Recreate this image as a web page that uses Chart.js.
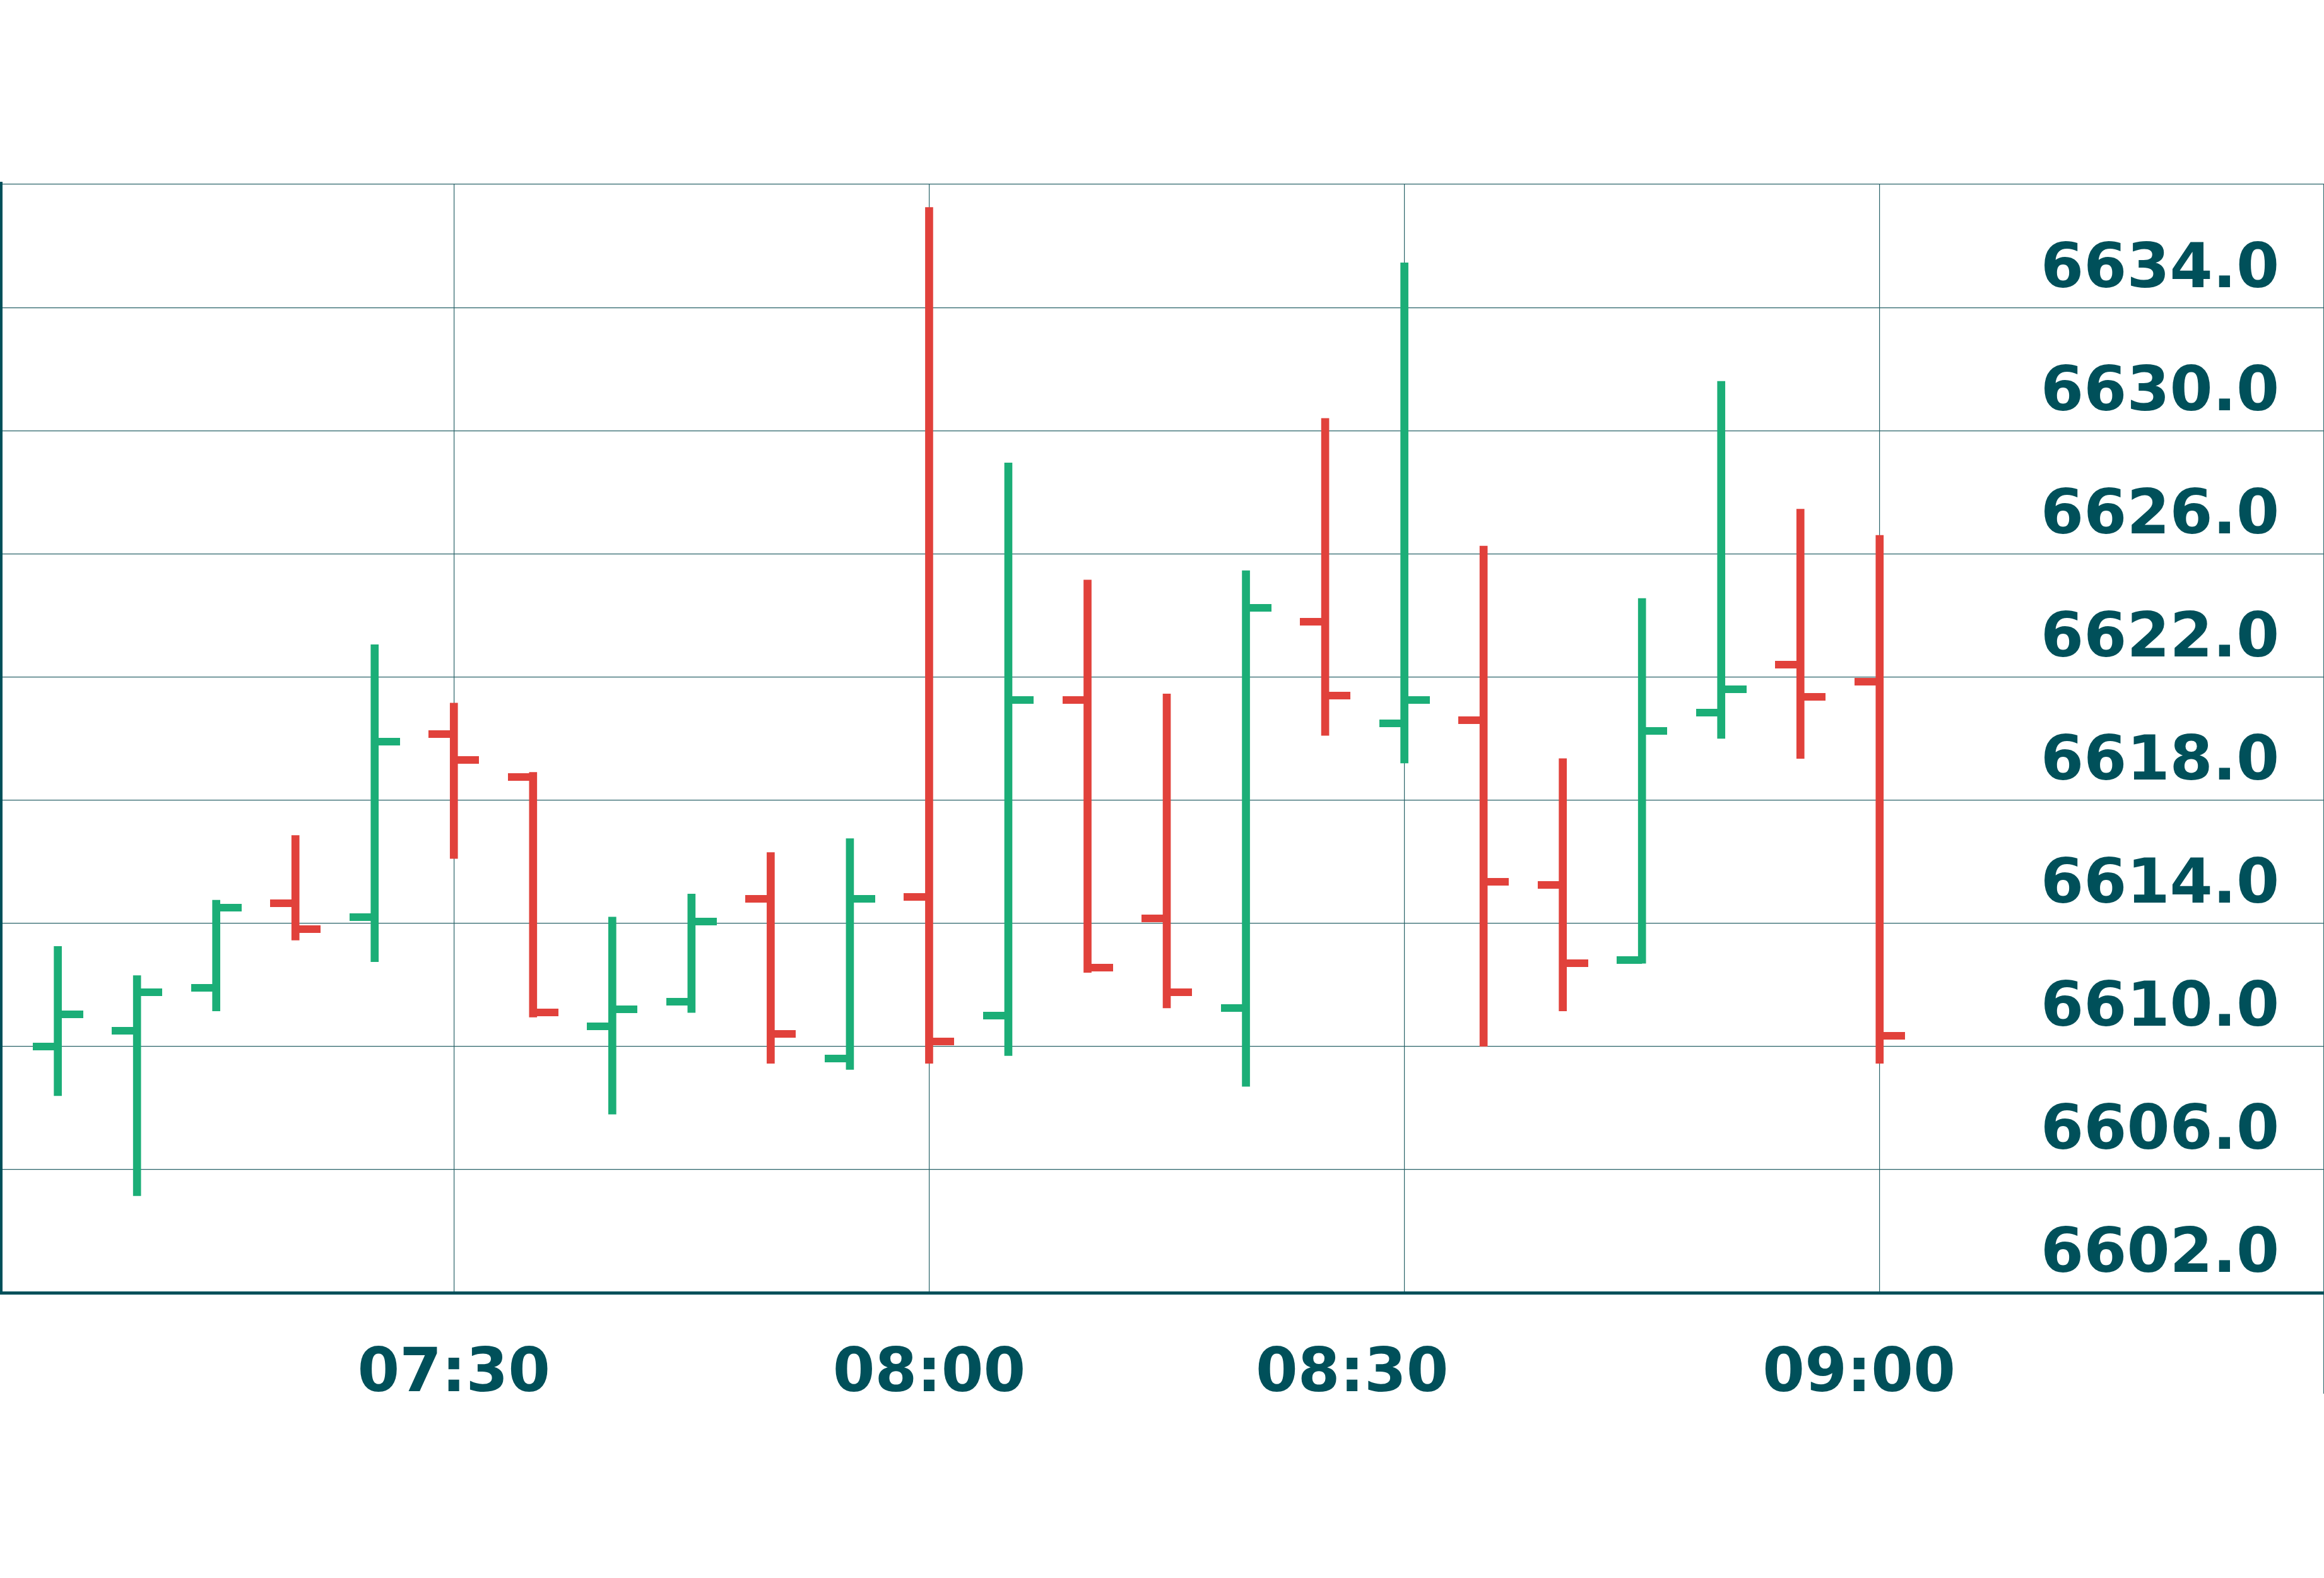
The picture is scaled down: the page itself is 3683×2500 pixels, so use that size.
<!DOCTYPE html>
<html>
<head>
<meta charset="utf-8">
<script src="https://cdn.jsdelivr.net/npm/chart.js@4.4.1/dist/chart.umd.min.js"></script>
<style>
  html, body { margin: 0; padding: 0; background: #fff; }
  canvas { display: block; }
</style>
</head>
<body>
<canvas id="chart" width="3683" height="2500"></canvas>
<script>
// 5 minute bars
const times = ['07:05', '07:10', '07:15', '07:20', '07:25', '07:30', '07:35', '07:40',
               '07:45', '07:50', '07:55', '08:00', '08:05', '08:10', '08:15', '08:20',
               '08:25', '08:30', '08:35', '08:40', '08:45', '08:50', '08:55', '09:00']
const opens  = [6610.0, 6610.5, 6611.9, 6614.65, 6614.2, 6620.15, 6618.75, 6610.65,
                6611.45, 6614.8, 6609.6, 6614.85, 6611.0, 6621.25, 6614.15, 6611.25,
                6623.8, 6620.5, 6620.6, 6615.25, 6612.8, 6620.85, 6622.4, 6621.85]
const highs  = [6613.25, 6612.3, 6614.75, 6616.85, 6623.05, 6621.15, 6618.9, 6614.2,
                6614.95, 6616.3, 6616.75, 6637.25, 6628.95, 6625.15, 6621.45, 6625.45,
                6630.4, 6635.45, 6626.25, 6619.35, 6624.55, 6631.6, 6627.45, 6626.6]
const lows   = [6608.4, 6605.15, 6611.15, 6613.45, 6612.75, 6616.1, 6610.95, 6607.8,
                6611.1, 6609.45, 6609.25, 6609.45, 6609.7, 6612.4, 6611.25, 6608.7,
                6620.1, 6619.2, 6610.0, 6611.15, 6612.7, 6620.0, 6619.35, 6609.45]
const closes = [6611.05, 6611.75, 6614.5, 6613.8, 6619.9, 6619.3, 6611.1, 6611.2,
                6614.05, 6610.4, 6614.8, 6610.15, 6621.25, 6612.55, 6611.75, 6624.25,
                6621.4, 6621.25, 6615.35, 6612.7, 6620.25, 6621.6, 6621.35, 6610.35]

// axis ticks (grid at the half hours, labels sit a little off them in the original)
const xGridTimes = ['07:30', '08:00', '08:30', '09:00']
const xTickLabels = ['07:30', '08:00', '08:30', '09:00']
const xLabelAt = [30, 60, 86.7, 118.7]
const yTicks = [6602, 6606, 6610, 6614, 6618, 6622, 6626, 6630, 6634, 6638]
const yTickLabels = ['6602.0', '6606.0', '6610.0', '6614.0', '6618.0', '6622.0', '6626.0', '6630.0', '6634.0', '']

// minutes after 07:00
const toMin = t => {
    const [h, m] = t.split(':').map(Number)
    return (h - 7) * 60 + m
}

const up = '#1bae77'
const down = '#e1413b'
const ink = '#00505a'
const gridCol = '#2a6369'
const xMin = 1.35
const xMax = 148.05

const colors = opens.map((o, i) => closes[i] >= o ? up : down)

// open tick sticks out left, close tick sticks out right
function tickImg(color, side) {
    const c = document.createElement('canvas')
    c.width = 80
    c.height = 12
    const g = c.getContext('2d')
    g.fillStyle = color
    g.fillRect(side == 'left' ? 0 : 40, 0, 40, 12)
    return c
}
const openImg = { [up]: tickImg(up, 'left'), [down]: tickImg(down, 'left') }
const closeImg = { [up]: tickImg(up, 'right'), [down]: tickImg(down, 'right') }

// the big tick paddings are only for label placement, keep them out of the layout
function noPad(s) {
    s.paddingTop = 0
    s.paddingBottom = 0
    s.paddingLeft = 0
    s.paddingRight = 0
}

Chart.defaults.font.family = 'DejaVu Sans'

const ctx = document.getElementById('chart')
const chart = new Chart(ctx, {
    type: 'bar',
    data: {
        datasets: [{
            type: 'bar',
            data: times.map((t, i) => ({ x: toMin(t), y: [lows[i], highs[i]] })),
            backgroundColor: colors,
            borderWidth: 0,
            barThickness: 12,
            grouped: false
        }, {
            type: 'line',
            data: times.map((t, i) => ({ x: toMin(t), y: opens[i] })),
            showLine: false,
            pointStyle: c => openImg[colors[c.dataIndex]] || 'line',
            pointRadius: 20
        }, {
            type: 'line',
            data: times.map((t, i) => ({ x: toMin(t), y: closes[i] })),
            showLine: false,
            pointStyle: c => closeImg[colors[c.dataIndex]] || 'line',
            pointRadius: 20
        }]
    },
    options: {
        responsive: false,
        animation: false,
        devicePixelRatio: 1,
        layout: {
            autoPadding: false,
            padding: { top: 292, left: 0, right: 0, bottom: 0 }
        },
        plugins: {
            legend: { display: false },
            tooltip: { enabled: false }
        },
        scales: {
            // grid + axis line, no labels
            x: {
                type: 'linear',
                min: xMin,
                max: xMax,
                offset: false,
                weight: 0,
                afterBuildTicks: s => {
                    s.ticks = xGridTimes.map(t => ({ value: toMin(t) })).concat([{ value: xMax }])
                },
                afterFit: s => {
                    s.height = 0
                    noPad(s)
                },
                ticks: { display: false },
                grid: {
                    offset: false,
                    color: gridCol,
                    lineWidth: 1.2,
                    tickLength: 160,
                    tickWidth: 1.2,
                    tickColor: c => c.index == xGridTimes.length ? gridCol : 'rgba(0,0,0,0)'
                },
                border: { display: true, color: ink, width: 5 }
            },
            // time labels
            xLabels: {
                type: 'linear',
                axis: 'x',
                position: 'bottom',
                min: xMin,
                max: xMax,
                offset: false,
                weight: 1,
                afterBuildTicks: s => {
                    s.ticks = xLabelAt.map(v => ({ value: v }))
                },
                afterFit: s => {
                    s.height = 452
                    noPad(s)
                },
                ticks: {
                    callback: (v, i) => xTickLabels[i],
                    font: { size: 96, weight: 'bold' },
                    color: ink,
                    padding: 73,
                    maxRotation: 0,
                    autoSkip: false
                },
                grid: { display: false, drawTicks: false },
                border: { display: false }
            },
            y: {
                type: 'linear',
                position: 'left',
                min: 6602,
                max: 6638,
                afterBuildTicks: s => {
                    s.ticks = yTicks.map(v => ({ value: v }))
                },
                afterFit: s => {
                    s.width = 0
                    noPad(s)
                },
                ticks: {
                    mirror: true,
                    crossAlign: 'near',
                    padding: 3234,
                    labelOffset: -58,
                    callback: (v, i) => yTickLabels[i],
                    font: { size: 98, weight: 'bold' },
                    color: ink
                },
                grid: {
                    color: gridCol,
                    lineWidth: 1.2,
                    drawTicks: false
                },
                border: { display: true, color: ink, width: 8 }
            }
        }
    }
})
</script>
</body>
</html>
